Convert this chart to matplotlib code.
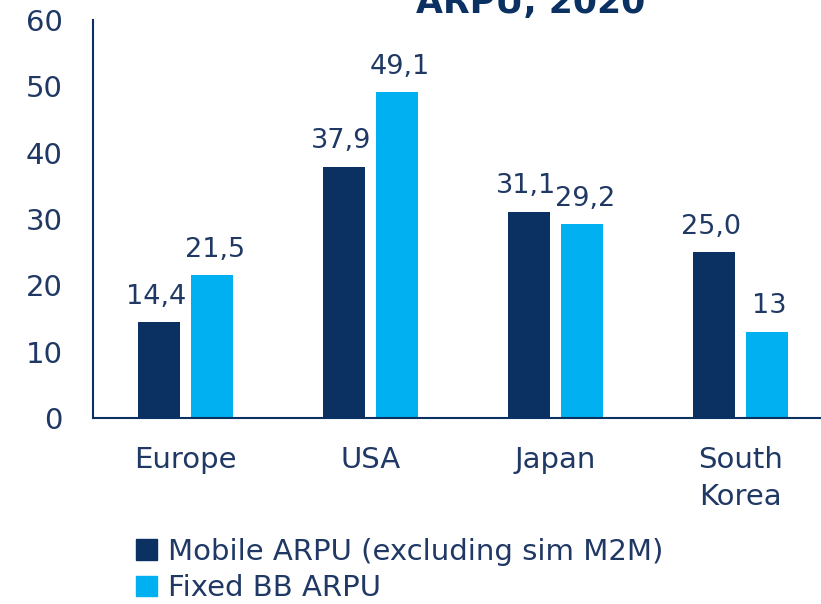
import numpy as np
import matplotlib
matplotlib.use('Agg')
import matplotlib.pyplot as plt
from matplotlib.patches import Patch

# Data
categories = ['Europe', 'USA', 'Japan', 'South\nKorea']
mobile_arpu = [14.4, 37.9, 31.1, 25.0]
fixed_arpu = [21.5, 49.1, 29.2, 13]
mobile_labels = ['14,4', '37,9', '31,1', '25,0']
fixed_labels = ['21,5', '49,1', '29,2', '13']

navy = '#0B3162'
cyan = '#00B0F0'
text_col = '#1F3864'
fs = 21

plt.rcParams['font.family'] = ['DejaVu Sans']

fig = plt.figure(figsize=(8.21, 6.04), dpi=100)
ax = fig.add_axes([0.1133, 0.308, 0.9013, 0.659])

x = np.arange(len(categories))
w = 0.227
off = 0.143
b1 = ax.bar(x - off, mobile_arpu, w, color=navy)
b2 = ax.bar(x + off, fixed_arpu, w, color=cyan)

for bars, labs, dx in ((b1, mobile_labels, -2), (b2, fixed_labels, 2)):
    for rect, lab in zip(bars, labs):
        ax.annotate(lab, (rect.get_x() + rect.get_width() / 2, rect.get_height()),
                    xytext=(dx, 9), textcoords='offset points', ha='center', va='bottom',
                    fontsize=19.5, color=text_col)

ax.set_xlim(-0.5, 3.5)
ax.set_ylim(0, 60)
ax.set_yticks(range(0, 61, 10))
ax.set_xticks(x)
ax.set_xticklabels(categories, linespacing=1.4)
ax.tick_params(length=0, labelsize=fs, labelcolor=text_col)
ax.tick_params(axis='x', pad=20)
ax.tick_params(axis='y', pad=22)
ax.spines[['top', 'right']].set_visible(False)
for s in ('left', 'bottom'):
    ax.spines[s].set_color(navy)
    ax.spines[s].set_linewidth(1.5)

fig.text(0.646, 0.978, 'ARPU, 2020', ha='center', va='baseline',
         fontsize=25, fontweight='bold', color=navy)

handles = [Patch(color=navy), Patch(color=cyan)]
fig.legend(handles, ['Mobile ARPU (excluding sim M2M)', 'Fixed BB ARPU'],
           loc='upper left', bbox_to_anchor=(0.166, 0.11), frameon=False,
           fontsize=fs, labelcolor=text_col, handlelength=0.7, handleheight=0.7,
           handletextpad=0.4, labelspacing=0.3, borderaxespad=0, borderpad=0)

fig.savefig('out.png', dpi=100)
